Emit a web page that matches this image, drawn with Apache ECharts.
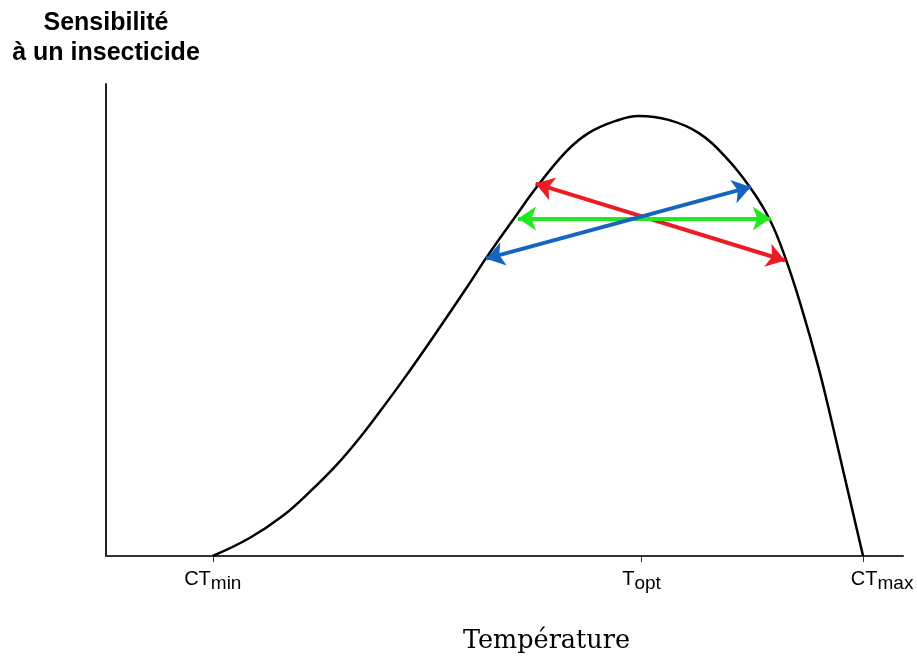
<!DOCTYPE html>
<html>
<head>
<meta charset="utf-8">
<script src="https://cdn.jsdelivr.net/npm/echarts@6/dist/echarts.min.js"></script>
<style>
  html, body { margin: 0; padding: 0; background: #ffffff; }
  #chart { width: 917px; height: 659px; }
</style>
</head>
<body>
<div id="chart"></div>
<script>
// Tick labels (main text + subscript) and their positions on the temperature axis
const xTickValues = [13.4, 67.2, 95.0];
const xTickMain = ['CT', 'T', 'CT'];
const xTickSub = ['min', 'opt', 'max'];

// Thermal performance curve (temperature, sensitivity)
const curveX = [13.39, 18.02, 22.15, 25.53, 28.91, 31.79, 34.29, 37.42, 40.93, 45.18, 47.81, 51.44, 54.07, 57.70, 60.58, 63.95, 66.83, 70.59, 74.34, 77.72, 80.85, 83.35, 85.23, 87.23, 89.36, 90.99, 92.74, 94.99];
const curveY = [0, 3.81, 8.46, 13.53, 19.24, 24.95, 30.44, 37.63, 46.09, 56.66, 63.42, 72.09, 78.22, 85.62, 89.64, 92.18, 93.23, 92.39, 89.64, 84.57, 78.01, 71.04, 63.21, 52.85, 40.17, 28.96, 16.28, 0];

// Double-headed arrows: [start, end] as [temperature, sensitivity]
const arrowRed = [[53.9, 78.9], [85.2, 62.6]];
const arrowGreen = [[51.7, 71.5], [83.4, 71.5]];
const arrowBlue = [[47.7, 63.0], [80.9, 78.2]];

const chart = echarts.init(document.getElementById('chart'));

function tickLabel(value) {
  let idx = 0, best = Infinity;
  xTickValues.forEach((v, i) => { const d = Math.abs(v - value); if (d < best) { best = d; idx = i; } });
  const mainStyle = idx === xTickValues.length - 1 ? 'am' : 'a';
  return '{' + mainStyle + '|' + xTickMain[idx] + '}{b|' + xTickSub[idx] + '}';
}

const curveData = curveX.map((x, i) => [x, curveY[i]]);

function arrowSeries(coords, color) {
  return {
    type: 'lines',
    coordinateSystem: 'cartesian2d',
    symbol: ['arrow', 'arrow'],
    symbolSize: 18,
    silent: true,
    lineStyle: { color: color, width: 4, opacity: 1, curveness: 0 },
    data: [{ coords: coords }],
    z: 3
  };
}

chart.setOption({
  animation: false,
  backgroundColor: '#ffffff',
  grid: { left: 106, right: 14, top: 84, bottom: 102 },
  xAxis: {
    type: 'value',
    min: 0,
    max: 100,
    name: 'Température',
    nameLocation: 'middle',
    nameGap: 72,
    nameTextStyle: {
      fontFamily: 'DejaVu Serif',
      fontSize: 25.5,
      color: '#000',
      padding: [0, 0, 0, 84]
    },
    axisLine: { show: true, lineStyle: { color: '#333', width: 2 } },
    axisTick: { show: true, customValues: xTickValues, length: 6, lineStyle: { color: '#333', width: 1 } },
    axisLabel: {
      customValues: xTickValues,
      margin: 13,
      formatter: tickLabel,
      rich: {
        a: { fontFamily: 'Liberation Sans', fontSize: 20, color: '#000', lineHeight: 20, verticalAlign: 'top' },
        am: { fontFamily: 'Liberation Sans', fontSize: 20, color: '#000', lineHeight: 20, verticalAlign: 'top', padding: [0, 0, 0, 38] },
        b: { fontFamily: 'Liberation Sans', fontSize: 19, color: '#000', lineHeight: 24, verticalAlign: 'bottom' }
      }
    },
    splitLine: { show: false }
  },
  yAxis: {
    type: 'value',
    min: 0,
    max: 100,
    name: 'Sensibilité\nà un insecticide',
    nameLocation: 'end',
    nameGap: 16,
    nameTextStyle: {
      fontFamily: 'Liberation Sans',
      fontWeight: 'bold',
      fontSize: 25,
      lineHeight: 30,
      color: '#000',
      align: 'center'
    },
    axisLine: { show: true, lineStyle: { color: '#222', width: 2 } },
    axisTick: { show: false },
    axisLabel: { show: false },
    splitLine: { show: false }
  },
  series: [
    {
      type: 'line',
      data: curveData,
      smooth: 0.4,
      symbol: 'none',
      silent: true,
      lineStyle: { color: '#000', width: 2.5 },
      z: 2
    },
    arrowSeries(arrowRed, '#ec1c24'),
    arrowSeries(arrowGreen, '#22e822'),
    arrowSeries(arrowBlue, '#1565c0')
  ]
});
</script>
</body>
</html>
